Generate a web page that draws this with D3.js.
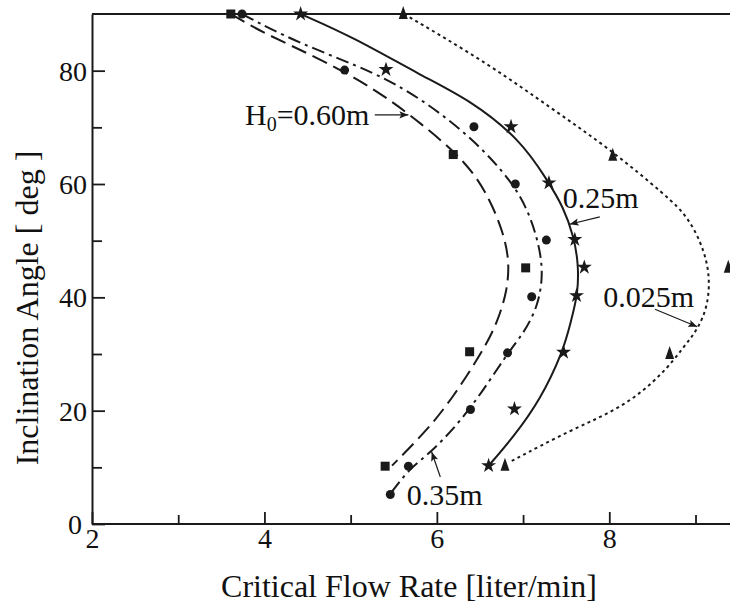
<!DOCTYPE html>
<html>
<head>
<meta charset="utf-8">
<script src="https://cdn.jsdelivr.net/npm/d3@7"></script>
<style>
  body { margin: 0; background: #fff; }
  svg text { font-family: "Liberation Serif", "Times New Roman", serif; fill: #111; }
</style>
</head>
<body>
<div id="chart"></div>
<script>
// fitted curves, [flow rate, angle]
var curve060 = [[3.61,90],[3.99,86.6],[4.65,82.1],[5.31,76.5],[5.81,70.8],[6.36,63.7],[6.62,57.2],[6.77,51.4],[6.84,46.6],[6.82,41.3],[6.70,35.5],[6.54,30.7],[6.19,22.4],[5.89,16.6],[5.48,10.3]];
var curve035 = [[3.74,90],[4.38,84.9],[5.31,79.6],[5.89,74.3],[6.43,67.8],[6.89,60.2],[7.09,54.2],[7.20,48.3],[7.23,43.6],[7.17,38.3],[7.00,33.5],[6.82,30.2],[6.39,20.1],[5.95,12.8],[5.68,9.8],[5.46,5.3]];
var curve025 = [[4.42,90],[5.03,85.9],[5.81,79.2],[6.39,74.8],[6.97,67.8],[7.28,60.7],[7.47,55.9],[7.59,50.6],[7.64,46.1],[7.64,40.8],[7.55,35.5],[7.47,30.7],[7.20,21.9],[6.89,15.4],[6.59,10.1]];
var curve0025 = [[5.62,90],[6.59,81.3],[7.35,73.1],[7.98,66.5],[8.68,57.7],[8.91,54.2],[9.09,48.9],[9.17,43.6],[9.14,38.3],[9.02,34.2],[8.86,31.2],[8.63,26.6],[8.17,20.6],[7.55,16.6],[6.84,10.9]];

// measured points
var squares060 = [[3.61,90],[6.19,65.2],[7.03,45.2],[6.38,30.4],[5.40,10.2]];
var circles035 = [[3.74,90],[4.93,80.1],[6.43,70.1],[6.91,60.0],[7.27,50.1],[7.10,40.1],[6.82,30.2],[6.39,20.2],[5.67,10.2],[5.46,5.2]];
var stars025 = [[4.42,90],[5.41,80.2],[6.86,70.1],[7.30,60.2],[7.60,50.2],[7.71,45.3],[7.62,40.3],[7.47,30.3],[6.90,20.3],[6.60,10.3]];
var triangles0025 = [[5.61,90],[8.04,65.0],[9.38,45.2],[8.70,30.0],[6.79,10.3]];

var xTicks = [2,3,4,5,6,7,8,9];
var xLabels = [2,4,6,8];
var yTicks = [0,10,20,30,40,50,60,70,80];
var yLabels = [0,20,40,60,80];

// labels: text at [x,y], arrow from -> to
var notes = [
  {text: "0.60m", sub: true, at: [3.775,70.4], from: [5.28,72.2], to: [5.67,72.2]},
  {text: "0.25m", at: [7.46,55.8], from: [7.89,54.2], to: [7.54,52.9]},
  {text: "0.025m", at: [7.93,38.3], from: [8.53,37.9], to: [9.02,34.8]},
  {text: "0.35m", at: [5.65,3.35], from: [6.04,8.3], to: [5.94,12.7]}
];

var W = 730, H = 608;
var svg = d3.select('#chart').append('svg').attr('width', W).attr('height', H);

var x = d3.scaleLinear().domain([2, 9.4]).range([92, 730]);
var y = d3.scaleLinear().domain([0, 90]).range([524, 14]);

var ink = '#1a1a1a';

// axes with inward ticks
var xAxis = svg.append('g')
    .attr('transform', 'translate(0,' + y(0) + ')')
    .call(d3.axisBottom(x).tickValues(xTicks).tickSizeOuter(0).tickSizeInner(0)
      .tickFormat(function(d) { return xLabels.indexOf(d) >= 0 ? d : ''; }));
xAxis.select('.domain').attr('stroke', ink).attr('stroke-width', 2).attr('d', 'M' + x.range()[0] + ',0H' + W);
xAxis.selectAll('.tick line').attr('stroke', ink).attr('stroke-width', 1.8)
    .attr('y2', function(d) { return xLabels.indexOf(d) >= 0 ? -12 : -9; });
xAxis.selectAll('.tick text').attr('font-size', 28).attr('fill', ink).attr('y', 4).attr('dy', '0.71em');

var yAxis = svg.append('g')
    .attr('transform', 'translate(' + x(2) + ',0)')
    .call(d3.axisLeft(y).tickValues(yTicks).tickSizeOuter(0).tickSizeInner(0)
      .tickFormat(function(d) { return yLabels.indexOf(d) >= 0 ? d : ''; }));
yAxis.select('.domain').attr('stroke', ink).attr('stroke-width', 2);
yAxis.selectAll('.tick line').attr('stroke', ink).attr('stroke-width', 1.8)
    .attr('x2', function(d) { return yLabels.indexOf(d) >= 0 ? 13 : 10; });
yAxis.selectAll('.tick text').attr('font-size', 28).attr('fill', ink)
    .attr('x', function(d) { return d === 0 ? -10 : -5; }).attr('dy', '0.34em');

// top frame line
svg.append('line')
    .attr('x1', x(2)).attr('x2', W).attr('y1', y(90)).attr('y2', y(90))
    .attr('stroke', ink).attr('stroke-width', 2);

// axis titles
svg.append('text')
    .attr('x', 409).attr('y', 597)
    .attr('text-anchor', 'middle').attr('font-size', 32)
    .text('Critical Flow Rate [liter/min]');
svg.append('text')
    .attr('transform', 'translate(38,308) rotate(-90)')
    .attr('text-anchor', 'middle').attr('font-size', 32)
    .text('Inclination Angle [ deg ]');

// curves (smoothed through the traced points)
var line = d3.line()
    .x(function(d) { return x(d[0]); })
    .y(function(d) { return y(d[1]); })
    .curve(d3.curveBasis);

var curves = [
  {data: curve060, dash: '16,7'},
  {data: curve035, dash: '13,5,3,5'},
  {data: curve025, dash: null},
  {data: curve0025, dash: '3,3.5'}
];
svg.selectAll('.curve')
    .data(curves)
  .enter().append('path')
    .attr('class', 'curve')
    .attr('d', function(d) { return line(d.data); })
    .attr('fill', 'none')
    .attr('stroke', ink)
    .attr('stroke-width', 2)
    .attr('stroke-dasharray', function(d) { return d.dash; });

// markers
svg.selectAll('.sq')
    .data(squares060)
  .enter().append('rect')
    .attr('x', function(d) { return x(d[0]) - 4.5; })
    .attr('y', function(d) { return y(d[1]) - 4.5; })
    .attr('width', 9).attr('height', 9)
    .attr('fill', ink);

svg.selectAll('.ci')
    .data(circles035)
  .enter().append('circle')
    .attr('cx', function(d) { return x(d[0]); })
    .attr('cy', function(d) { return y(d[1]); })
    .attr('r', 4.5)
    .attr('fill', ink);

var star = d3.symbol().type(d3.symbolStar).size(70);
svg.selectAll('.st')
    .data(stars025)
  .enter().append('path')
    .attr('d', star)
    .attr('transform', function(d) { return 'translate(' + x(d[0]) + ',' + y(d[1]) + ')'; })
    .attr('fill', ink);

svg.selectAll('.tr')
    .data(triangles0025)
  .enter().append('path')
    .attr('d', 'M0,-8L4.5,5L-4.5,5Z')
    .attr('transform', function(d) { return 'translate(' + x(d[0]) + ',' + y(d[1]) + ')'; })
    .attr('fill', ink);

// annotations
svg.append('defs').append('marker')
    .attr('id', 'arrow')
    .attr('viewBox', '0 -5 10 10')
    .attr('refX', 10).attr('refY', 0)
    .attr('markerWidth', 9).attr('markerHeight', 9)
    .attr('markerUnits', 'userSpaceOnUse')
    .attr('orient', 'auto')
  .append('path')
    .attr('d', 'M0,-4L10,0L0,4L2,0Z')
    .attr('fill', ink);

var note = svg.selectAll('.note')
    .data(notes)
  .enter().append('g')
    .attr('class', 'note');

note.append('line')
    .attr('x1', function(d) { return x(d.from[0]); })
    .attr('y1', function(d) { return y(d.from[1]); })
    .attr('x2', function(d) { return x(d.to[0]); })
    .attr('y2', function(d) { return y(d.to[1]); })
    .attr('stroke', ink).attr('stroke-width', 1.2)
    .attr('marker-end', 'url(#arrow)');

note.append('text')
    .attr('x', function(d) { return x(d.at[0]); })
    .attr('y', function(d) { return y(d.at[1]); })
    .attr('font-size', 30)
    .each(function(d) {
      var t = d3.select(this);
      if (d.sub) {
        t.append('tspan').text('H');
        t.append('tspan').attr('font-size', 20).attr('dy', 6).text('0');
        t.append('tspan').attr('dy', -6).text('=' + d.text);
      } else {
        t.text(d.text);
      }
    });
</script>
</body>
</html>
